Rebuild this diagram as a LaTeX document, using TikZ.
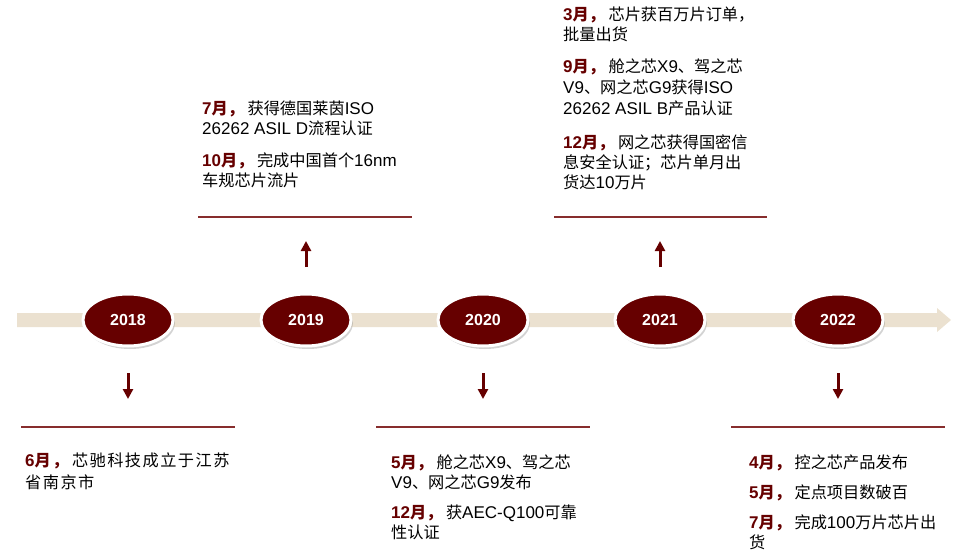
\documentclass[tikz,border=0pt]{standalone}
\usepackage{fontspec}
\setmainfont{Liberation Sans}
\newfontfamily\cjk{Noto Sans CJK SC}
\newfontfamily\cjkwide[LetterSpace=9]{Noto Sans CJK SC}
\newfontfamily\latf{Liberation Sans}
\usetikzlibrary{shapes.geometric,arrows.meta,shadows}
\definecolor{mred}{RGB}{102,0,0}
\definecolor{lred}{RGB}{135,45,45}
\definecolor{band}{RGB}{235,225,208}
\newcommand{\lat}[1]{{\latf\fontsize{17}{20}\selectfont #1}}
\newcommand{\mon}[1]{{\color{mred}\bfseries\lat{#1}月，}\hspace{3.5pt}}
\begin{document}
\begin{tikzpicture}[x=1pt,y=-1pt,
  yearnode/.style={ellipse,fill=mred,draw=white,line width=3pt,minimum width=90pt,minimum height=52pt,
    inner sep=0pt,text=white,font=\latf\bfseries\fontsize{16}{18}\selectfont,
    drop shadow={shadow xshift=2pt,shadow yshift=-3pt,opacity=0.35,fill=gray}},
  txt/.style={anchor=base west,inner sep=0pt,font=\cjk\fontsize{16.2}{20}\selectfont,text=black},
  widetxt/.style={txt,font=\cjkwide\fontsize{16.2}{20}\selectfont},
  sepline/.style={draw=lred,line width=1.6pt},
  marker/.style={draw=mred,line width=3pt,-{Triangle[width=10pt,length=10pt]}}
]
\useasboundingbox (0,0) rectangle (973,559);
% timeline band
\fill[band] (17,313) -- (937,313) -- (937,308) -- (951,320) -- (937,332) -- (937,327) -- (17,327) -- cycle;
% year nodes
\node[yearnode] (y18) at (128,320) {2018};
\node[yearnode] (y19) at (306,320) {2019};
\node[yearnode] (y20) at (483,320) {2020};
\node[yearnode] (y21) at (660,320) {2021};
\node[yearnode] (y22) at (838,320) {2022};
% arrows
\coordinate (a18s) at (128,373); \coordinate (a18e) at (128,399);
\coordinate (a19s) at (306,267); \coordinate (a19e) at (306,241);
\coordinate (a20s) at (483,373); \coordinate (a20e) at (483,399);
\coordinate (a21s) at (660,267); \coordinate (a21e) at (660,241);
\coordinate (a22s) at (838,373); \coordinate (a22e) at (838,399);
\draw[marker] (a18s) -- (a18e);
\draw[marker] (a19s) -- (a19e);
\draw[marker] (a20s) -- (a20e);
\draw[marker] (a21s) -- (a21e);
\draw[marker] (a22s) -- (a22e);
% separator lines
\coordinate (s19a) at (198,217); \coordinate (s19b) at (412,217);
\coordinate (s21a) at (554,217); \coordinate (s21b) at (767,217);
\coordinate (s18a) at (21,427); \coordinate (s18b) at (235,427);
\coordinate (s20a) at (376,427); \coordinate (s20b) at (590,427);
\coordinate (s22a) at (731,427); \coordinate (s22b) at (945,427);
\draw[sepline] (s19a) -- (s19b);
\draw[sepline] (s21a) -- (s21b);
\draw[sepline] (s18a) -- (s18b);
\draw[sepline] (s20a) -- (s20b);
\draw[sepline] (s22a) -- (s22b);
% 2019 text
\node[txt] (t19a) at (202,114) {\mon{7}获得德国莱茵\lat{ISO}};
\node[txt] (t19b) at (202,134) {\lat{26262 ASIL D}流程认证};
\node[txt] (t19c) at (202,166) {\mon{10}完成中国首个\lat{16nm}};
\node[txt] (t19d) at (202,186) {车规芯片流片};
% 2021 text
\node[txt] (t21a) at (563,21) {\mon{3}芯片获百万片订单，};
\node[txt] (t21b) at (563,41) {批量出货};
\node[txt] (t21c) at (563,73) {\mon{9}舱之芯\lat{X9}、驾之芯};
\node[txt] (t21d) at (563,94) {\lat{V9}、网之芯\lat{G9}获得\lat{ISO}};
\node[txt] (t21e) at (563,114) {\lat{26262 ASIL B}产品认证};
\node[txt] (t21f) at (563,148) {\mon{12}网之芯获得国密信};
\node[txt] (t21g) at (563,168) {息安全认证；芯片单月出};
\node[txt] (t21h) at (563,188) {货达\lat{10}万片};
% 2018 text
\node[widetxt] (t18a) at (25,466) {\mon{6}芯驰科技成立于江苏};
\node[widetxt] (t18b) at (25,488) {省南京市};
% 2020 text
\node[txt] (t20a) at (391,468) {\mon{5}舱之芯\lat{X9}、驾之芯};
\node[txt] (t20b) at (391,488) {\lat{V9}、网之芯\lat{G9}发布};
\node[txt] (t20c) at (391,518) {\mon{12}获\lat{AEC-Q100}可靠};
\node[txt] (t20d) at (391,538) {性认证};
% 2022 text
\node[txt] (t22a) at (749,468) {\mon{4}控之芯产品发布};
\node[txt] (t22b) at (749,498) {\mon{5}定点项目数破百};
\node[txt] (t22c) at (749,528) {\mon{7}完成\lat{100}万片芯片出};
\node[txt] (t22d) at (749,548) {货};
\end{tikzpicture}
\end{document}
